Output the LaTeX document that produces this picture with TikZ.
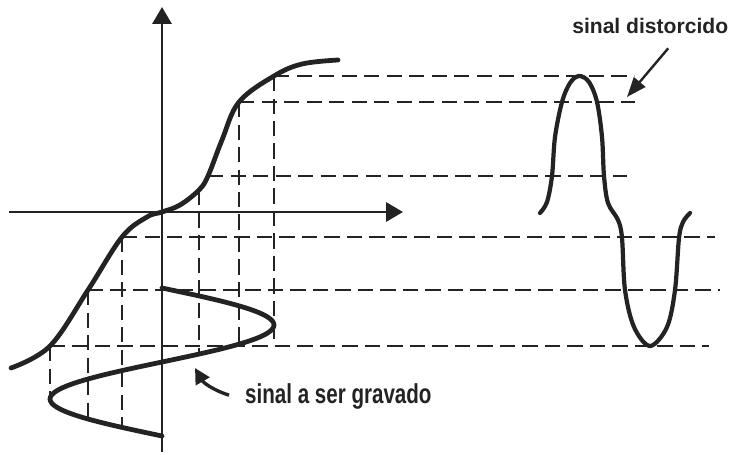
\documentclass[tikz,border=0pt]{standalone}
\usepackage{fontspec}
\setmainfont{Liberation Sans}
\usetikzlibrary{arrows.meta,positioning}
\definecolor{tinta}{HTML}{232323}

\begin{document}
\begin{tikzpicture}[
			x=0.025cm,y=0.025cm,
			eixo/.style={line width=2.1pt,tinta,-{Triangle[length=12pt,width=13.5pt]}},
			curva/.style={line width=3.4pt,tinta,line cap=round,line join=round},
			guia/.style={line width=1.6pt,tinta,dash pattern=on 11pt off 5pt},
			seta/.style={-{Triangle[length=14pt,width=10.5pt]},line width=1.7pt,tinta},
			rotulo/.style={text=tinta,inner sep=0pt,anchor=base west}
			]
			\useasboundingbox (-162,-242) rectangle (572,212);
			\coordinate (O) at (0,0);
			\coordinate (xa) at (-153,0);
			\coordinate (xb) at (241,0);
			\coordinate (ya) at (0,-240);
			\coordinate (yb) at (0,205);
			\coordinate (t1) at (112,136);
			\coordinate (t2) at (77,110);
			\coordinate (t3) at (46,36);
			\coordinate (t4) at (37,22);
			\coordinate (t5) at (-40,-25);
			\coordinate (t6) at (-74,-78);
			\coordinate (t7) at (-112,-134);
			\draw[eixo] (xa)--(xb);
			\draw[eixo] (ya)--(yb);
			\draw[guia] (t1)--(472,136);
			\draw[guia] (t2)--(473,110);
			\draw[guia] (t3)--(465,36);
			\draw[guia] (t5)--(553,-25);
			\draw[guia] (t6)--(558,-78);
			\draw[guia] (t7)--(547,-134);
			\draw[guia] (t1)--(112,-134);
			\draw[guia] (t2)--(77,-132);
			\draw[guia] (t4)--(37,-142);
			\draw[guia] (t5)--(-40,-215);
			\draw[guia] (t6)--(-74,-207);
			\draw[guia] (t7)--(-112,-187);
			\draw[curva] plot[smooth,tension=0.6] coordinates {(-151,-156) (t7) (t6) (t5) (-15,-5) (O) (18,7) (t4) (t3) (60,72) (t2) (t1) (140,148) (176,152)};
			\draw[curva] plot[domain=0:360,samples=73,smooth] ({112*sin(\x)},{-76-0.4111*\x});
			\draw[curva,line width=3pt] plot[smooth,tension=0.55] coordinates {(378,-1) (385,10) (390,36) (393,75) (400,110) (408,129) (417,136) (427,130) (435,110) (440,75) (442,36) (446,9) (456,-8) (460,-26) (463,-78) (472,-115) (488,-134) (505,-115) (513,-78) (517,-26) (521,-10) (528,-1)};
			\node[rotulo,font=\bfseries\fontsize{15}{18}\selectfont] (distorcido) at (410,179) {sinal distorcido};
			\node[rotulo,font=\bfseries\fontsize{19.5}{22}\selectfont,xscale=0.75] (gravado) at (83,-191) {sinal a ser gravado};
			\coordinate (dtip) at (465,115);
			\coordinate (gtip) at (33,-156);
			\draw[seta] ([xshift=0.45cm,yshift=-0.37cm]distorcido.south)--(dtip);
			\draw[seta,line width=2.4pt,-{Triangle[length=11pt,width=11pt]}] ([xshift=-0.4cm,yshift=0.02cm]gravado.west) to[out=162,in=-60] (gtip);
		\end{tikzpicture}
\end{document}
